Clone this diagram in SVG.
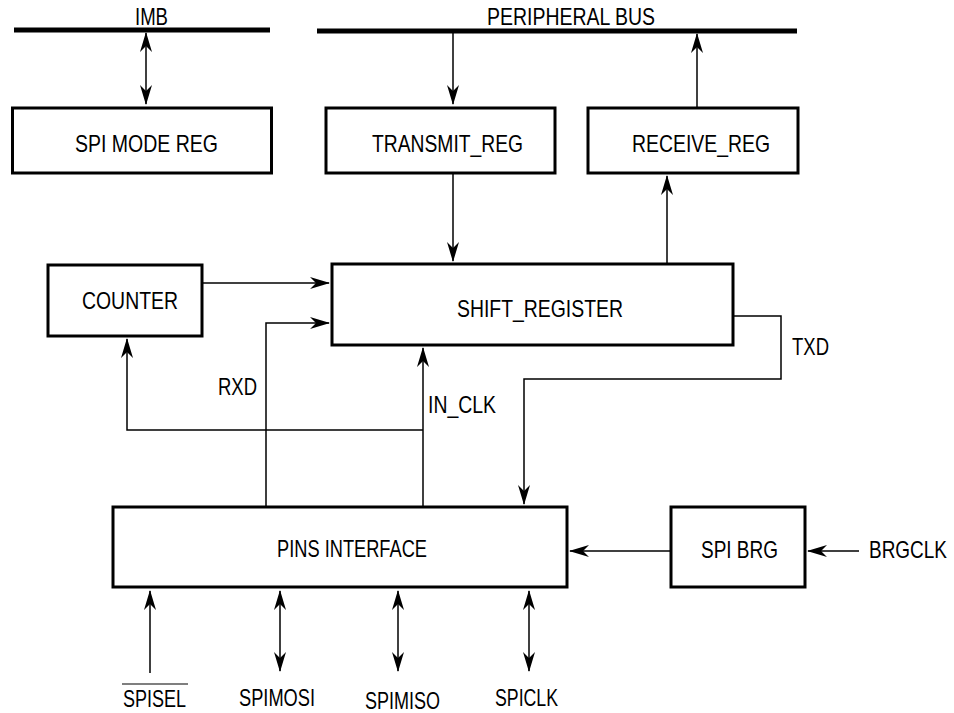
<svg xmlns="http://www.w3.org/2000/svg" width="954" height="713" viewBox="0 0 954 713">
<style>
.box{fill:#fff;stroke:#000;stroke-width:3}
.bus{stroke:#000;stroke-width:5;fill:none}
.c{stroke:#000;stroke-width:1.5;fill:none}
text{font-family:"Liberation Sans Narrow","Liberation Sans",Arial,sans-serif;font-size:24px;fill:#000}
</style>
<defs>
<marker id="ah" markerUnits="userSpaceOnUse" markerWidth="20" markerHeight="12" refX="19" refY="6" orient="auto-start-reverse" viewBox="0 0 20 12">
<path d="M0,0 L20,6 L0,12 L6,6 Z" fill="#000"/>
</marker>
</defs>
<rect width="954" height="713" fill="#fff"/>
<g id="imb">
<line class="bus" x1="14" y1="30" x2="270" y2="30"/>
<text x="135" y="25" textLength="33" lengthAdjust="spacingAndGlyphs">IMB</text>
</g>
<g id="peripheral-bus">
<line class="bus" x1="317" y1="31" x2="797" y2="31"/>
<text x="487" y="25" textLength="168" lengthAdjust="spacingAndGlyphs">PERIPHERAL BUS</text>
</g>
<g id="spi-mode-reg">
<rect class="box" x="12.5" y="108" width="259" height="65"/>
<text x="75" y="152" textLength="143" lengthAdjust="spacingAndGlyphs">SPI MODE REG</text>
</g>
<g id="transmit-reg">
<rect class="box" x="326" y="108" width="229" height="65"/>
<text x="372" y="152" textLength="151" lengthAdjust="spacingAndGlyphs">TRANSMIT_REG</text>
</g>
<g id="receive-reg">
<rect class="box" x="588" y="108" width="210" height="65"/>
<text x="632" y="152" textLength="138" lengthAdjust="spacingAndGlyphs">RECEIVE_REG</text>
</g>
<g id="counter">
<rect class="box" x="48" y="265" width="154" height="71"/>
<text x="82" y="309" textLength="96" lengthAdjust="spacingAndGlyphs">COUNTER</text>
</g>
<g id="shift-register">
<rect class="box" x="332" y="264" width="401" height="81"/>
<text x="457" y="317" textLength="166" lengthAdjust="spacingAndGlyphs">SHIFT_REGISTER</text>
</g>
<g id="pins-interface">
<rect class="box" x="113" y="507" width="454" height="80"/>
<text x="277" y="557" textLength="150" lengthAdjust="spacingAndGlyphs">PINS INTERFACE</text>
</g>
<g id="spi-brg">
<rect class="box" x="671" y="507" width="134" height="80"/>
<text x="701" y="558" textLength="77" lengthAdjust="spacingAndGlyphs">SPI BRG</text>
</g>
<g id="connectors">
<line class="c" x1="146" y1="33" x2="146" y2="104" marker-start="url(#ah)" marker-end="url(#ah)"/>
<line class="c" x1="453" y1="33" x2="453" y2="104" marker-end="url(#ah)"/>
<line class="c" x1="697" y1="107" x2="697" y2="34" marker-end="url(#ah)"/>
<line class="c" x1="453" y1="174" x2="453" y2="261" marker-end="url(#ah)"/>
<line class="c" x1="667" y1="263" x2="667" y2="176" marker-end="url(#ah)"/>
<line class="c" x1="203" y1="283" x2="329" y2="283" marker-end="url(#ah)"/>
<polyline class="c" points="266,506 266,323 329,323" marker-end="url(#ah)"/>
<line class="c" x1="423" y1="506" x2="423" y2="348" marker-end="url(#ah)"/>
<polyline class="c" points="423,430 127,430 127,339" marker-end="url(#ah)"/>
<polyline class="c" points="734,316 781,316 781,379 524,379 524,504" marker-end="url(#ah)"/>
<line class="c" x1="670" y1="551" x2="570" y2="551" marker-end="url(#ah)"/>
<line class="c" x1="859" y1="551" x2="808" y2="551" marker-end="url(#ah)"/>
<line class="c" x1="150" y1="673" x2="150" y2="591" marker-end="url(#ah)"/>
<line class="c" x1="280" y1="591" x2="280" y2="671" marker-start="url(#ah)" marker-end="url(#ah)"/>
<line class="c" x1="398" y1="591" x2="398" y2="671" marker-start="url(#ah)" marker-end="url(#ah)"/>
<line class="c" x1="529" y1="591" x2="529" y2="671" marker-start="url(#ah)" marker-end="url(#ah)"/>
<text x="218" y="395" textLength="39" lengthAdjust="spacingAndGlyphs">RXD</text>
<text x="428" y="413" textLength="68" lengthAdjust="spacingAndGlyphs">IN_CLK</text>
<text x="792" y="355" textLength="37" lengthAdjust="spacingAndGlyphs">TXD</text>
<text x="869" y="558" textLength="78" lengthAdjust="spacingAndGlyphs">BRGCLK</text>
<line x1="122" y1="684" x2="188" y2="684" stroke="#000" stroke-width="1.2"/>
<text x="123" y="707" textLength="63" lengthAdjust="spacingAndGlyphs">SPISEL</text>
<text x="239" y="706" textLength="76" lengthAdjust="spacingAndGlyphs">SPIMOSI</text>
<text x="365" y="709" textLength="75" lengthAdjust="spacingAndGlyphs">SPIMISO</text>
<text x="495" y="706" textLength="63" lengthAdjust="spacingAndGlyphs">SPICLK</text>
</g>
</svg>
